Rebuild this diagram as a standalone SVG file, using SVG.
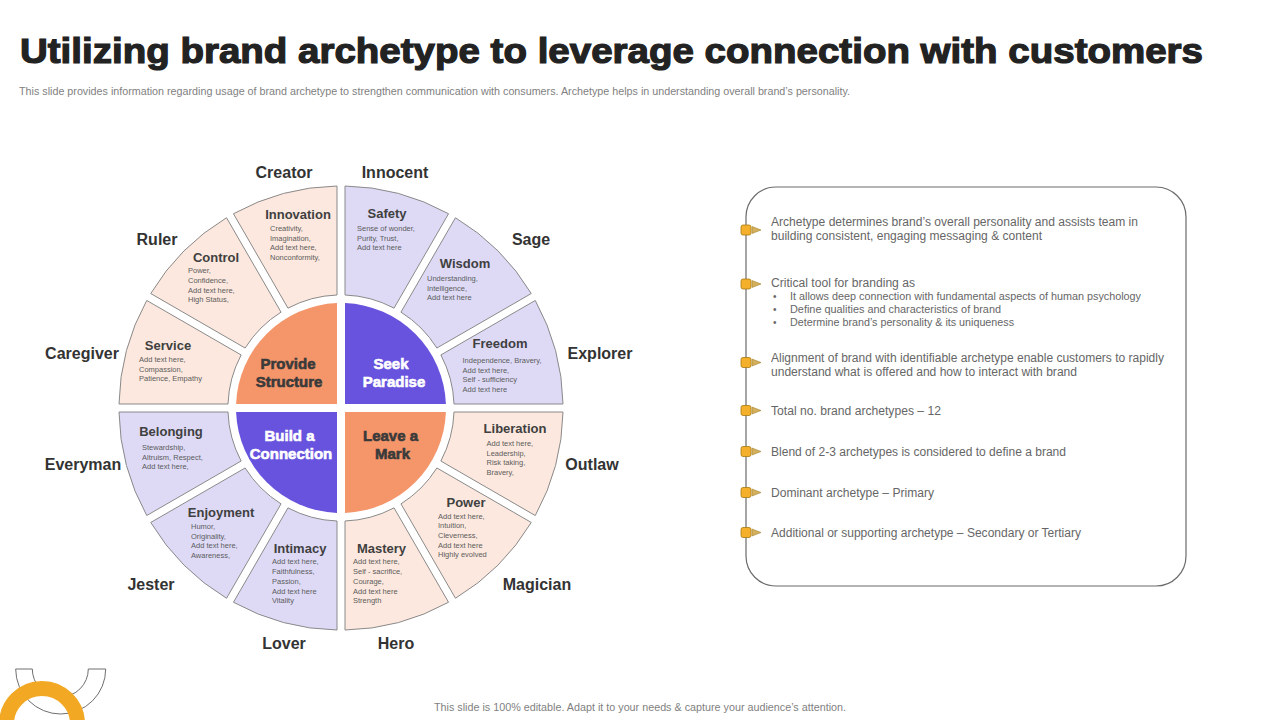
<svg xmlns="http://www.w3.org/2000/svg" width="1280" height="720" viewBox="0 0 1280 720">
<style>
  .peach { fill:#FCE8DE; stroke:#8A8A8A; stroke-width:1; }
  .lav { fill:#DEDAF6; stroke:#8A8A8A; stroke-width:1; }
  .qor { fill:#F4956A; }
  .qpu { fill:#6753DD; }
  .ttl { font-family:"Liberation Sans", Arial, sans-serif; font-weight:bold; font-size:13px; fill:#404040; text-anchor:middle; }
  .dsc { font-family:"Liberation Sans", Arial, sans-serif; font-size:7.5px; fill:#5c5c5c; }
  .arc { font-family:"Liberation Sans", Arial, sans-serif; font-weight:bold; font-size:16px; fill:#333333; text-anchor:middle; }
  .qt { font-family:"Liberation Sans", Arial, sans-serif; font-weight:bold; font-size:15px; text-anchor:middle; stroke-width:0.6; }
  .qtd { fill:#3a3a3a; stroke:#3a3a3a; }
  .qtw { fill:#ffffff; stroke:#ffffff; }
  .bd { font-family:"Liberation Sans", Arial, sans-serif; font-size:12px; fill:#666666; }
  .sb { font-family:"Liberation Sans", Arial, sans-serif; font-size:10px; fill:#666666; }
  .sq { fill:#F4B02A; stroke:#A97A12; stroke-width:0.8; }
  .tri { fill:#D5B05C; stroke:#A5842C; stroke-width:0.6; }
</style>
<rect width="1280" height="720" fill="#ffffff"/>

<g id="header">
  <text x="20" y="63" font-family="'Liberation Sans', Arial, sans-serif" font-weight="bold" font-size="35" fill="#222222" stroke="#222222" stroke-width="1.2" textLength="1183" lengthAdjust="spacingAndGlyphs">Utilizing brand archetype to leverage connection with customers</text>
  <text x="19" y="95" font-family="'Liberation Sans', Arial, sans-serif" font-size="10" fill="#7f7f7f" textLength="831" lengthAdjust="spacingAndGlyphs">This slide provides information regarding usage of brand archetype to strengthen communication  with consumers. Archetype helps in understanding overall brand’s personality.</text>
</g>

<g id="wheel">
  <g id="seg-freedom">
    <path class="lav" d="M563,404 A222,222 0 0 0 535.26,300.46 L440.86,354.96 A113,113 0 0 1 454,404 Z"/>
    <text class="ttl" x="500" y="348">Freedom</text>
    <text class="dsc"><tspan x="462.5" y="363">Independence,   Bravery,</tspan><tspan x="462.5" y="372.5">Add text here,</tspan><tspan x="462.5" y="382">Self - sufficiency</tspan><tspan x="462.5" y="391.5">Add text here</tspan></text>
    <text class="arc" x="600" y="359">Explorer</text>
  </g>
  <g id="seg-wisdom">
    <path class="lav" d="M531.26,293.54 A222,222 0 0 0 455.46,217.74 L400.96,312.14 A113,113 0 0 1 436.86,348.04 Z"/>
    <text class="ttl" x="465" y="268">Wisdom</text>
    <text class="dsc"><tspan x="427" y="281">Understanding,</tspan><tspan x="427" y="290.5">Intelligence,</tspan><tspan x="427" y="300">Add text here</tspan></text>
    <text class="arc" x="531" y="245">Sage</text>
  </g>
  <g id="seg-safety">
    <path class="lav" d="M448.54,213.74 A222,222 0 0 0 345,186 L345,295 A113,113 0 0 1 394.04,308.14 Z"/>
    <text class="ttl" x="387" y="218">Safety</text>
    <text class="dsc"><tspan x="357" y="231">Sense of wonder,</tspan><tspan x="357" y="240.5">Purity, Trust,</tspan><tspan x="357" y="250">Add text here</tspan></text>
    <text class="arc" x="395" y="178">Innocent</text>
  </g>

  <g id="seg-innovation">
    <path class="peach" d="M337,186 A222,222 0 0 0 233.46,213.74 L287.96,308.14 A113,113 0 0 1 337,295 Z"/>
    <text class="ttl" x="298" y="219">Innovation</text>
    <text class="dsc"><tspan x="270" y="231">Creativity,</tspan><tspan x="270" y="240.5">Imagination,</tspan><tspan x="270" y="250">Add text here,</tspan><tspan x="270" y="260">Nonconformity,</tspan></text>
    <text class="arc" x="284" y="178">Creator</text>
  </g>
  <g id="seg-control">
    <path class="peach" d="M226.54,217.74 A222,222 0 0 0 150.74,293.54 L245.14,348.04 A113,113 0 0 1 281.04,312.14 Z"/>
    <text class="ttl" x="216" y="262">Control</text>
    <text class="dsc"><tspan x="188" y="273">Power,</tspan><tspan x="188" y="282.5">Confidence,</tspan><tspan x="188" y="292.5">Add text here,</tspan><tspan x="188" y="302">High Status,</tspan></text>
    <text class="arc" x="157" y="245">Ruler</text>
  </g>
  <g id="seg-service">
    <path class="peach" d="M146.74,300.46 A222,222 0 0 0 119,404 L228,404 A113,113 0 0 1 241.14,354.96 Z"/>
    <text class="ttl" x="168" y="350">Service</text>
    <text class="dsc"><tspan x="139" y="362">Add text here,</tspan><tspan x="139" y="371.5">Compassion,</tspan><tspan x="139" y="381">Patience,  Empathy</tspan></text>
    <text class="arc" x="82" y="359">Caregiver</text>
  </g>

  <g id="seg-belonging">
    <path class="lav" d="M119,412 A222,222 0 0 0 146.74,515.54 L241.14,461.04 A113,113 0 0 1 228,412 Z"/>
    <text class="ttl" x="171" y="436">Belonging</text>
    <text class="dsc"><tspan x="142" y="450">Stewardship,</tspan><tspan x="142" y="459.5">Altruism, Respect,</tspan><tspan x="142" y="469">Add text here,</tspan></text>
    <text class="arc" x="83" y="470">Everyman</text>
  </g>
  <g id="seg-enjoyment">
    <path class="lav" d="M150.74,522.46 A222,222 0 0 0 226.54,598.26 L281.04,503.86 A113,113 0 0 1 245.14,467.96 Z"/>
    <text class="ttl" x="221" y="517">Enjoyment</text>
    <text class="dsc"><tspan x="191" y="529">Humor,</tspan><tspan x="191" y="538.5">Originality,</tspan><tspan x="191" y="548">Add text here,</tspan><tspan x="191" y="558">Awareness,</tspan></text>
    <text class="arc" x="151" y="590">Jester</text>
  </g>
  <g id="seg-intimacy">
    <path class="lav" d="M233.46,602.26 A222,222 0 0 0 337,630 L337,521 A113,113 0 0 1 287.96,507.86 Z"/>
    <text class="ttl" x="300" y="553">Intimacy</text>
    <text class="dsc"><tspan x="272" y="564">Add text here,</tspan><tspan x="272" y="573.5">Faithfulness,</tspan><tspan x="272" y="583.5">Passion,</tspan><tspan x="272" y="593.5">Add text here</tspan><tspan x="272" y="603">Vitality</tspan></text>
    <text class="arc" x="284" y="649">Lover</text>
  </g>

  <g id="seg-mastery">
    <path class="peach" d="M345,630 A222,222 0 0 0 448.54,602.26 L394.04,507.86 A113,113 0 0 1 345,521 Z"/>
    <text class="ttl" x="381.5" y="553">Mastery</text>
    <text class="dsc"><tspan x="353" y="564">Add text here,</tspan><tspan x="353" y="573.5">Self - sacrifice,</tspan><tspan x="353" y="583.5">Courage,</tspan><tspan x="353" y="593.5">Add text here</tspan><tspan x="353" y="603">Strength</tspan></text>
    <text class="arc" x="396" y="649">Hero</text>
  </g>
  <g id="seg-power">
    <path class="peach" d="M455.46,598.26 A222,222 0 0 0 531.26,522.46 L436.86,467.96 A113,113 0 0 1 400.96,503.86 Z"/>
    <text class="ttl" x="466" y="507">Power</text>
    <text class="dsc"><tspan x="438" y="518.5">Add text here,</tspan><tspan x="438" y="528">Intuition,</tspan><tspan x="438" y="537.5">Cleverness,</tspan><tspan x="438" y="547.5">Add text here</tspan><tspan x="438" y="557">Highly evolved</tspan></text>
    <text class="arc" x="537" y="590">Magician</text>
  </g>
  <g id="seg-liberation">
    <path class="peach" d="M535.26,515.54 A222,222 0 0 0 563,412 L454,412 A113,113 0 0 1 440.86,461.04 Z"/>
    <text class="ttl" x="515" y="433">Liberation</text>
    <text class="dsc"><tspan x="486.5" y="446">Add text here,</tspan><tspan x="486.5" y="455.5">Leadership,</tspan><tspan x="486.5" y="465">Risk taking,</tspan><tspan x="486.5" y="474.5">Bravery,</tspan></text>
    <text class="arc" x="592" y="470">Outlaw</text>
  </g>

  <g id="q-provide-structure">
    <path class="qor" d="M337,404 L236.08,404 A105,105 0 0 1 337,303.08 Z"/>
    <text class="qt qtd" x="288" y="369">Provide</text>
    <text class="qt qtd" x="289" y="387">Structure</text>
  </g>
  <g id="q-seek-paradise">
    <path class="qpu" d="M345,404 L345,303.08 A105,105 0 0 1 445.92,404 Z"/>
    <text class="qt qtw" x="391" y="369">Seek</text>
    <text class="qt qtw" x="394" y="387">Paradise</text>
  </g>
  <g id="q-build-connection">
    <path class="qpu" d="M337,412 L337,512.92 A105,105 0 0 1 236.08,412 Z"/>
    <text class="qt qtw" x="289.5" y="441">Build a</text>
    <text class="qt qtw" x="291" y="458.5">Connection</text>
  </g>
  <g id="q-leave-mark">
    <path class="qor" d="M345,412 L445.92,412 A105,105 0 0 1 345,512.92 Z"/>
    <text class="qt qtd" x="390.5" y="441">Leave a</text>
    <text class="qt qtd" x="392.5" y="458.5">Mark</text>
  </g>
</g>

<g id="connectors"/>

<g id="info-panel">
  <rect x="746" y="187" width="440" height="399" rx="30" ry="30" fill="#ffffff" stroke="#6b6b6b" stroke-width="1.2"/>
  <g id="bullet-1">
    <rect class="sq" x="741" y="225" width="10" height="10" rx="2"/>
    <polygon class="tri" points="752,226.5 761,230 752,233.5"/>
    <text class="bd" x="771" y="226" textLength="367" lengthAdjust="spacingAndGlyphs">Archetype  determines brand’s overall personality and assists team in</text>
    <text class="bd" x="771" y="240" textLength="271" lengthAdjust="spacingAndGlyphs">building consistent, engaging messaging &amp; content</text>
  </g>
  <g id="bullet-2">
    <rect class="sq" x="741" y="279" width="10" height="10" rx="2"/>
    <polygon class="tri" points="752,280.5 761,284 752,287.5"/>
    <text class="bd" x="771" y="287" textLength="144" lengthAdjust="spacingAndGlyphs">Critical tool for branding as</text>
    <text class="sb" x="773" y="300">•</text>
    <text class="sb" x="790" y="300" textLength="351" lengthAdjust="spacingAndGlyphs">It allows deep connection with fundamental aspects of human psychology</text>
    <text class="sb" x="773" y="313">•</text>
    <text class="sb" x="790" y="313" textLength="211" lengthAdjust="spacingAndGlyphs">Define qualities and characteristics of brand</text>
    <text class="sb" x="773" y="325.5">•</text>
    <text class="sb" x="790" y="325.5" textLength="224" lengthAdjust="spacingAndGlyphs">Determine  brand’s personality &amp; its uniqueness</text>
  </g>
  <g id="bullet-3">
    <rect class="sq" x="741" y="357.5" width="10" height="10" rx="2"/>
    <polygon class="tri" points="752,359 761,362.5 752,366"/>
    <text class="bd" x="771" y="361.5" textLength="393" lengthAdjust="spacingAndGlyphs">Alignment of brand with identifiable archetype enable customers to rapidly</text>
    <text class="bd" x="771" y="375.5" textLength="306" lengthAdjust="spacingAndGlyphs">understand what is offered and how to  interact with brand</text>
  </g>
  <g id="bullet-4">
    <rect class="sq" x="741" y="405.5" width="10" height="10" rx="2"/>
    <polygon class="tri" points="752,407 761,410.5 752,414"/>
    <text class="bd" x="771" y="415" textLength="170" lengthAdjust="spacingAndGlyphs">Total no. brand archetypes – 12</text>
  </g>
  <g id="bullet-5">
    <rect class="sq" x="741" y="446.5" width="10" height="10" rx="2"/>
    <polygon class="tri" points="752,448 761,451.5 752,455"/>
    <text class="bd" x="771" y="455.5" textLength="295" lengthAdjust="spacingAndGlyphs">Blend of 2-3 archetypes is considered to define a brand</text>
  </g>
  <g id="bullet-6">
    <rect class="sq" x="741" y="487.5" width="10" height="10" rx="2"/>
    <polygon class="tri" points="752,489 761,492.5 752,496"/>
    <text class="bd" x="771" y="496.5" textLength="163" lengthAdjust="spacingAndGlyphs">Dominant archetype – Primary</text>
  </g>
  <g id="bullet-7">
    <rect class="sq" x="741" y="527.5" width="10" height="10" rx="2"/>
    <polygon class="tri" points="752,529 761,532.5 752,536"/>
    <text class="bd" x="771" y="537" textLength="310" lengthAdjust="spacingAndGlyphs">Additional or supporting archetype – Secondary or Tertiary</text>
  </g>
</g>

<g id="decoration">
  <path d="M15.7,669 L32.3,669 A28,28 0 0 0 88.3,669 L105.7,669 A45,45 0 0 1 15.7,669 Z" fill="#ffffff" stroke="#6e6e6e" stroke-width="1"/>
  <circle cx="42" cy="724" r="35.5" fill="none" stroke="#F2A823" stroke-width="15"/>
</g>

<text x="640" y="711" text-anchor="middle" font-family="'Liberation Sans', Arial, sans-serif" font-size="10" fill="#7f7f7f" textLength="412" lengthAdjust="spacingAndGlyphs">This slide is 100% editable.  Adapt it to your needs &amp; capture your audience’s attention.</text>
</svg>
